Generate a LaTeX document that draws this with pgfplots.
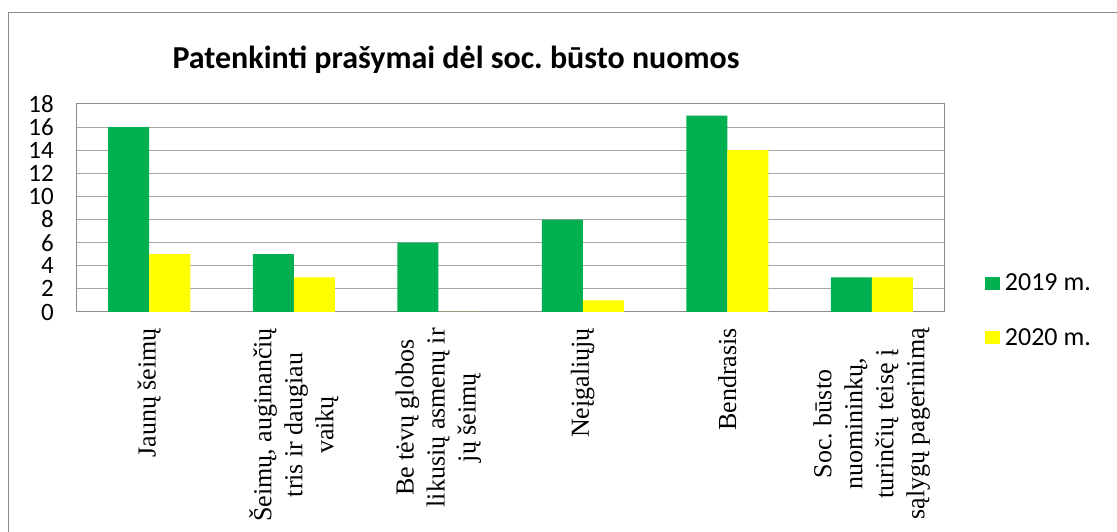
\documentclass[border=0pt]{standalone}
\usepackage{fontspec}
\setmainfont{Carlito}
\newfontfamily\tnr{Liberation Serif}
\usepackage{pgfplots}
\pgfplotsset{compat=1.18}
\definecolor{xgreen}{HTML}{00B050}
\definecolor{xyellow}{HTML}{FFFF00}
\definecolor{xgrid}{HTML}{A6A6A6}
\definecolor{xframe}{HTML}{8C8C8C}
\frenchspacing
\begin{document}
\begin{tikzpicture}[x=1pt,y=1pt]
\path[use as bounding box] (0,0) rectangle (1117,532);
\draw[xframe, line width=1pt] (8,0) -- (8,519) -- (1117,519);
\node[font=\fontsize{32}{38}\selectfont\bfseries] at (456,472) {Patenkinti prašymai dėl soc.\ būsto nuomos};
\begin{axis}[
  at={(77pt,220pt)}, anchor=south west,
  scale only axis, width=867pt, height=208pt,
  ybar=0pt, bar width=41pt,
  xmin=-0.5, xmax=5.5, ymin=0, ymax=18,
  xtick={0,...,5},
  xticklabels={{Jaunų šeimų},{Šeimų, auginančių\\tris ir daugiau\\vaikų},{Be tėvų globos\\likusių asmenų ir\\jų šeimų},{Neįgaliųjų},{Bendrasis},{Soc.\ būsto\\nuomininkų,\\turinčių teisę į\\sąlygų pagerinimą}},
  ytick={0,2,...,18},
  major tick length=0pt,
  ymajorgrids, grid style={xgrid, line width=1pt},
  axis line style={xframe, line width=1pt},
  /pgf/number format/assume math mode=true,
  yticklabel style={font=\fontsize{25}{27}\selectfont, anchor=east, inner sep=0pt},
  yticklabel shift=23pt,
  xticklabel style={font=\fontsize{26}{31}\selectfont\tnr, rotate=90, anchor=east, align=center, inner sep=0pt},
  xticklabel shift=16pt,
  legend style={at={(1.047,0.008)}, anchor=west, draw=none, fill=none, font=\fontsize{26}{28}\selectfont, row sep=26pt, inner sep=0pt, nodes={inner sep=5pt}},
  legend cell align=left,
  legend image code/.code={\fill[#1] (0pt,-6.5pt) rectangle (15pt,6.5pt);},
]
\addplot[fill=xgreen, draw=none] coordinates {(0,16) (1,5) (2,6) (3,8) (4,17) (5,3)};
\addplot[fill=xyellow, draw=none] coordinates {(0,5) (1,3) (2,0) (3,1) (4,14) (5,3)};
\legend{2019 m.,2020 m.}
\end{axis}
\end{tikzpicture}
\end{document}
